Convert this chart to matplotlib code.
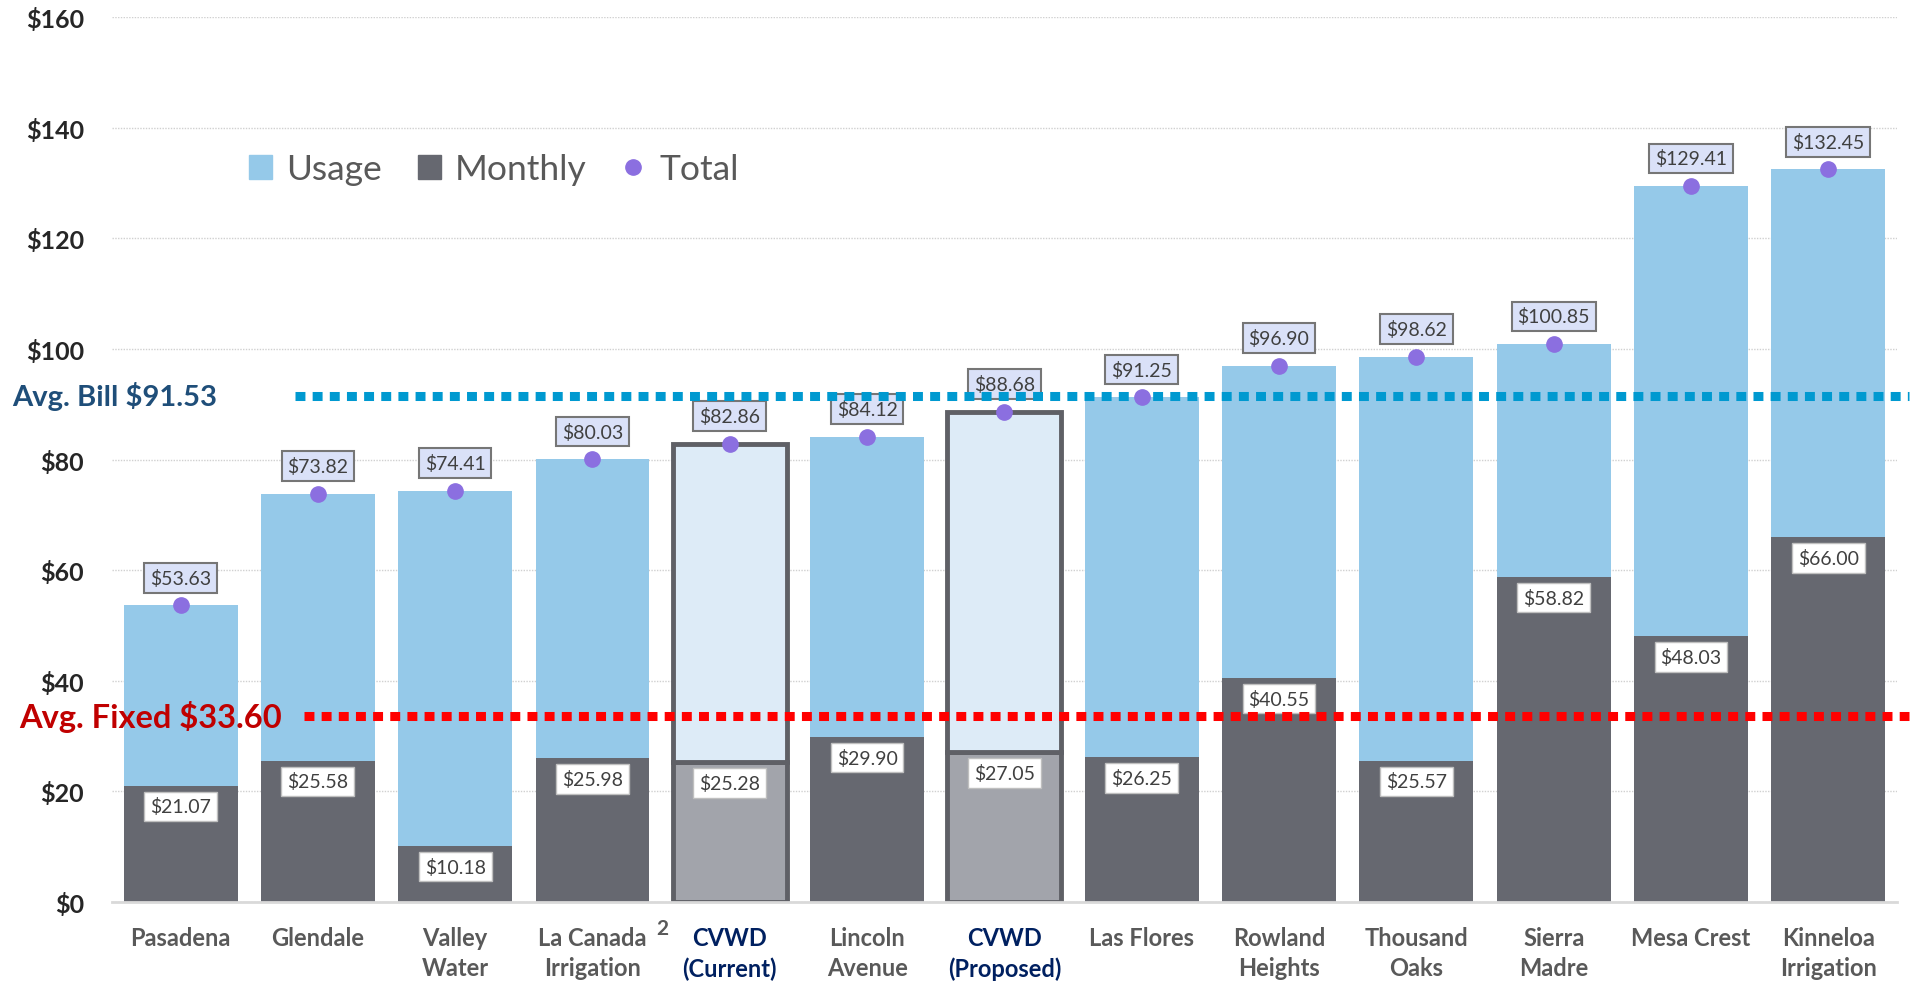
import matplotlib.pyplot as plt
import matplotlib.transforms as mtransforms
from matplotlib.patches import Patch
from matplotlib.lines import Line2D

plt.rcParams['font.family'] = ['Lato', 'DejaVu Sans']

# datos
agencies = ['Pasadena', 'Glendale', 'Valley\nWater', 'La Canada\nIrrigation',
            'CVWD\n(Current)', 'Lincoln\nAvenue', 'CVWD\n(Proposed)', 'Las Flores',
            'Rowland\nHeights', 'Thousand\nOaks', 'Sierra\nMadre', 'Mesa Crest',
            'Kinneloa\nIrrigation']
monthly = [21.07, 25.58, 10.18, 25.98, 25.28, 29.90, 27.05, 26.25, 40.55, 25.57,
           58.82, 48.03, 66.00]
total = [53.63, 73.82, 74.41, 80.03, 82.86, 84.12, 88.68, 91.25, 96.90, 98.62,
         100.85, 129.41, 132.45]
usage = [t - m for t, m in zip(total, monthly)]
cvwd = [4, 6]
avg_bill = 91.53
avg_fixed = 33.60

# colores
c_usage = '#95C9E9'
c_monthly = '#666870'
c_usage_cvwd = '#DDEBF7'
c_monthly_cvwd = '#A2A4AB'
c_dot = '#8B6FE0'

fig = plt.figure(figsize=(19.13, 9.87), dpi=100)
ax = fig.add_axes([0.0585, 0.085, 0.9331, 0.8967])

x = list(range(len(agencies)))
w = 0.83
for i in x:
    if i in cvwd:
        ax.bar(i, monthly[i], w, color=c_monthly_cvwd, edgecolor='#5F6066', linewidth=3.5, zorder=2)
        ax.bar(i, usage[i], w, bottom=monthly[i], color=c_usage_cvwd, edgecolor='#5F6066',
               linewidth=3.5, zorder=2)
    else:
        ax.bar(i, monthly[i], w, color=c_monthly, zorder=2)
        ax.bar(i, usage[i], w, bottom=monthly[i], color=c_usage, zorder=2)

# etiquetas
for i in x:
    ax.annotate(f'${total[i]:.2f}', xy=(i, total[i]), xytext=(0, 20), textcoords='offset points',
                ha='center', va='center', fontsize=14, color='#404040', zorder=3,
                bbox=dict(boxstyle='square,pad=0.3', fc='#DAE1F8', ec='#767676', lw=1.5))
    ax.annotate(f'${monthly[i]:.2f}', xy=(i, monthly[i]), xytext=(0, -15), textcoords='offset points',
                ha='center', va='center', fontsize=14, color='#404040', zorder=3,
                bbox=dict(boxstyle='square,pad=0.3', fc='white', ec='#BFBFBF', lw=1))

# lineas de promedio
yt = ax.get_yaxis_transform()
ax.plot([0.1025, 1.007], [avg_bill, avg_bill], transform=yt, clip_on=False, color='#0099D0',
        lw=6.5, dashes=(1.1, 0.8), solid_capstyle='butt', dash_capstyle='butt', zorder=4)
ax.plot([0.1076, 1.007], [avg_fixed, avg_fixed], transform=yt, clip_on=False, color='#FF0000',
        lw=6.5, dashes=(1.1, 0.8), solid_capstyle='butt', dash_capstyle='butt', zorder=4)

ft = mtransforms.blended_transform_factory(fig.transFigure, ax.transData)
ax.text(0.0063, avg_bill, 'Avg. Bill $91.53', transform=ft, ha='left', va='center',
        fontsize=21, fontweight='bold', color='#1F4E79')
ax.text(0.010, avg_fixed, 'Avg. Fixed $33.60', transform=ft, ha='left', va='center',
        fontsize=23.5, fontweight='bold', color='#C00000')

ax.plot(x, total, 'o', color=c_dot, markersize=11, zorder=5, clip_on=False)

# ejes
ax.set_xlim(-0.5, 12.5)
ax.set_ylim(0, 160)
ax.set_yticks(range(0, 161, 20))
ax.set_yticklabels([f'${v}' for v in range(0, 161, 20)], fontsize=18, fontweight='bold',
                   color='#262626')
ax.set_xticks(x)
ax.set_xticklabels(agencies, fontsize=17, fontweight='bold', color='#595959', linespacing=1.4)
for i, lab in enumerate(ax.get_xticklabels()):
    if i in cvwd:
        lab.set_color('#002060')
ax.tick_params(axis='x', length=0, pad=17)
ax.tick_params(axis='y', length=0, pad=20)
ax.annotate('2', xy=(3, 0), xytext=(50, -19), textcoords='offset points', ha='center',
            va='center', fontsize=15, fontweight='bold', color='#595959', annotation_clip=False)

for s in ['top', 'right', 'left']:
    ax.spines[s].set_visible(False)
ax.spines['bottom'].set_color('#D9D9D9')
ax.spines['bottom'].set_linewidth(2)
ax.set_axisbelow(True)
ax.yaxis.grid(True, linestyle=(0, (1, 1)), color='#D0D0D0', linewidth=1)

handles = [Patch(color=c_usage, label='Usage'), Patch(color=c_monthly, label='Monthly'),
           Line2D([], [], marker='o', ls='', color=c_dot, markersize=11, label='Total')]
ax.legend(handles=handles, loc='center', bbox_to_anchor=(0.214, 0.828), ncol=3, frameon=False,
          fontsize=25.5, labelcolor='#595959', handlelength=0.65, handleheight=0.65,
          handletextpad=0.4, columnspacing=1.0)

fig.savefig('out.png', dpi=100)
